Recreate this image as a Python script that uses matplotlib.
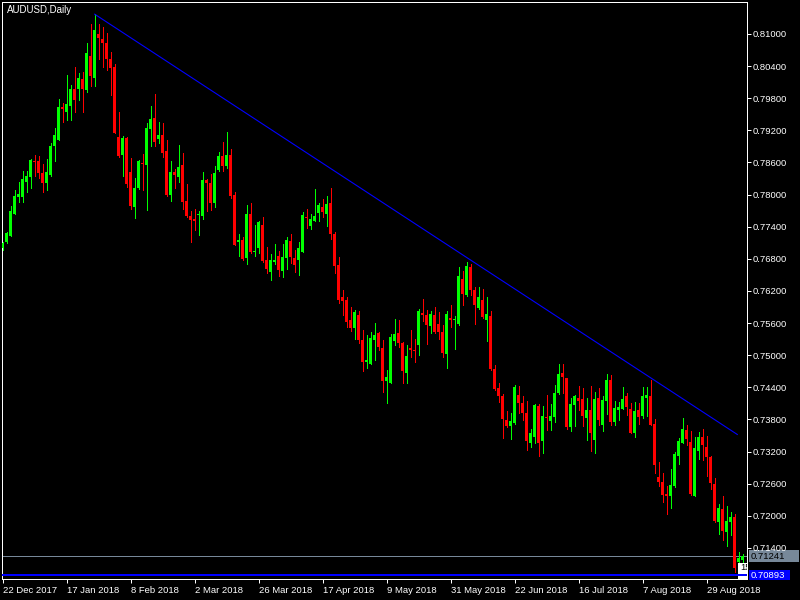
import matplotlib
matplotlib.use("Agg")
import matplotlib.pyplot as plt
from matplotlib.patches import Rectangle
import numpy as np

symbol_title = "AUDUSD,Daily"

opens = [0.7700, 0.7712, 0.7723, 0.7764, 0.7796, 0.7796, 0.7824, 0.7832, 0.7863, 0.7862,
         0.7841, 0.7822, 0.7837, 0.7890, 0.7902, 0.7964, 0.7955, 0.7966, 0.7997, 0.7997,
         0.8016, 0.7995, 0.8059, 0.8018, 0.8100, 0.8091, 0.8083, 0.8053, 0.8038, 0.7908,
         0.7874, 0.7906, 0.7842, 0.7777, 0.7813, 0.7859, 0.7855, 0.7923, 0.7943, 0.7904,
         0.7911, 0.7882, 0.7799, 0.7843, 0.7832, 0.7855, 0.7788, 0.7760, 0.7755, 0.7761,
         0.7760, 0.7827, 0.7822, 0.7785, 0.7846, 0.7872, 0.7853, 0.7874, 0.7799, 0.7712,
         0.7715, 0.7682, 0.7764, 0.7693, 0.7701, 0.7743, 0.7677, 0.7656, 0.7675, 0.7685,
         0.7658, 0.7682, 0.7713, 0.7681, 0.7677, 0.7693, 0.7759, 0.7741, 0.7751, 0.7766,
         0.7776, 0.7764, 0.7785, 0.7726, 0.7669, 0.7608, 0.7603, 0.7565, 0.7550, 0.7575,
         0.7528, 0.7488, 0.7484, 0.7528, 0.7542, 0.7514, 0.7451, 0.7449, 0.7527, 0.7541,
         0.7522, 0.7467, 0.7513, 0.7509, 0.7519, 0.7579, 0.7575, 0.7555, 0.7575, 0.7558,
         0.7544, 0.7502, 0.7570, 0.7565, 0.7558, 0.7642, 0.7613, 0.7664, 0.7622, 0.7588,
         0.7603, 0.7566, 0.7573, 0.7474, 0.7439, 0.7423, 0.7379, 0.7368, 0.7373, 0.7426,
         0.7411, 0.7393, 0.7337, 0.7348, 0.7406, 0.7339, 0.7385, 0.7378, 0.7385, 0.7429,
         0.7466, 0.7457, 0.7366, 0.7407, 0.7420, 0.7418, 0.7383, 0.7398, 0.7342, 0.7420,
         0.7370, 0.7415, 0.7454, 0.7376, 0.7398, 0.7400, 0.7424, 0.7399, 0.7355, 0.7398,
         0.7387, 0.7421, 0.7423, 0.7372, 0.7273, 0.7264, 0.7241, 0.7238, 0.7256, 0.7312,
         0.7337, 0.7360, 0.7338, 0.7238, 0.7322, 0.7348, 0.7329, 0.7310, 0.7260, 0.7188,
         0.7213, 0.7169, 0.7188, 0.7197, 0.7114, 0.7117]

highs = [0.7712, 0.7731, 0.7779, 0.7809, 0.7824, 0.7844, 0.7844, 0.7867, 0.7874, 0.7873,
         0.7857, 0.7867, 0.7896, 0.7925, 0.7978, 0.7972, 0.8023, 0.8005, 0.8038, 0.8027,
         0.8029, 0.8083, 0.8118, 0.8137, 0.8118, 0.8114, 0.8102, 0.8067, 0.8044, 0.7955,
         0.7910, 0.7908, 0.7868, 0.7831, 0.7865, 0.7875, 0.7933, 0.7966, 0.7988, 0.7936,
         0.7933, 0.7902, 0.7862, 0.7848, 0.7893, 0.7877, 0.7820, 0.7769, 0.7773, 0.7769,
         0.7843, 0.7829, 0.7838, 0.7853, 0.7880, 0.7899, 0.7917, 0.7886, 0.7804, 0.7726,
         0.7721, 0.7781, 0.7785, 0.7743, 0.7751, 0.7758, 0.7702, 0.7689, 0.7708, 0.7695,
         0.7707, 0.7721, 0.7726, 0.7697, 0.7712, 0.7768, 0.7773, 0.7764, 0.7811, 0.7784,
         0.7792, 0.7797, 0.7813, 0.7731, 0.7684, 0.7622, 0.7608, 0.7591, 0.7585, 0.7583,
         0.7547, 0.7538, 0.7543, 0.7560, 0.7544, 0.7528, 0.7472, 0.7540, 0.7568, 0.7566,
         0.7525, 0.7519, 0.7547, 0.7530, 0.7586, 0.7605, 0.7585, 0.7583, 0.7590, 0.7580,
         0.7557, 0.7583, 0.7594, 0.7574, 0.7665, 0.7657, 0.7675, 0.7670, 0.7627, 0.7627,
         0.7623, 0.7609, 0.7583, 0.7482, 0.7449, 0.7427, 0.7395, 0.7393, 0.7444, 0.7443,
         0.7424, 0.7415, 0.7362, 0.7409, 0.7408, 0.7405, 0.7426, 0.7409, 0.7444, 0.7484,
         0.7483, 0.7458, 0.7420, 0.7425, 0.7443, 0.7439, 0.7420, 0.7443, 0.7431, 0.7438,
         0.7424, 0.7465, 0.7463, 0.7415, 0.7413, 0.7440, 0.7430, 0.7411, 0.7413, 0.7411,
         0.7441, 0.7440, 0.7454, 0.7380, 0.7301, 0.7280, 0.7256, 0.7288, 0.7320, 0.7345,
         0.7383, 0.7370, 0.7359, 0.7347, 0.7357, 0.7362, 0.7349, 0.7311, 0.7270, 0.7223,
         0.7237, 0.7218, 0.7208, 0.7203, 0.7133, 0.7129]

lows = [0.7697, 0.7710, 0.7723, 0.7763, 0.7787, 0.7787, 0.7804, 0.7813, 0.7834, 0.7831,
        0.7805, 0.7809, 0.7835, 0.7863, 0.7902, 0.7936, 0.7939, 0.7939, 0.7955, 0.7977,
        0.7955, 0.7992, 0.8003, 0.8003, 0.8053, 0.8039, 0.8033, 0.7986, 0.7915, 0.7871,
        0.7834, 0.7815, 0.7773, 0.7757, 0.7811, 0.7809, 0.7771, 0.7891, 0.7891, 0.7896,
        0.7871, 0.7798, 0.7788, 0.7813, 0.7823, 0.7774, 0.7758, 0.7712, 0.7734, 0.7725,
        0.7754, 0.7769, 0.7771, 0.7776, 0.7845, 0.7844, 0.7849, 0.7793, 0.7705, 0.7686,
        0.7677, 0.7670, 0.7691, 0.7686, 0.7691, 0.7674, 0.7653, 0.7641, 0.7670, 0.7648,
        0.7647, 0.7662, 0.7673, 0.7656, 0.7650, 0.7692, 0.7737, 0.7736, 0.7750, 0.7751,
        0.7759, 0.7742, 0.7717, 0.7654, 0.7598, 0.7575, 0.7552, 0.7546, 0.7530, 0.7523,
        0.7471, 0.7476, 0.7483, 0.7491, 0.7510, 0.7432, 0.7411, 0.7448, 0.7519, 0.7516,
        0.7448, 0.7448, 0.7497, 0.7488, 0.7500, 0.7564, 0.7521, 0.7542, 0.7542, 0.7530,
        0.7496, 0.7476, 0.7552, 0.7511, 0.7557, 0.7594, 0.7611, 0.7613, 0.7558, 0.7586,
        0.7569, 0.7527, 0.7473, 0.7436, 0.7413, 0.7346, 0.7366, 0.7344, 0.7372, 0.7392,
        0.7379, 0.7323, 0.7329, 0.7336, 0.7312, 0.7317, 0.7360, 0.7360, 0.7376, 0.7427,
        0.7429, 0.7363, 0.7358, 0.7368, 0.7398, 0.7368, 0.7342, 0.7321, 0.7318, 0.7370,
        0.7359, 0.7390, 0.7370, 0.7370, 0.7379, 0.7399, 0.7388, 0.7354, 0.7348, 0.7372,
        0.7382, 0.7387, 0.7369, 0.7280, 0.7256, 0.7225, 0.7203, 0.7215, 0.7254, 0.7297,
        0.7336, 0.7332, 0.7239, 0.7237, 0.7306, 0.7304, 0.7274, 0.7250, 0.7189, 0.7166,
        0.7155, 0.7144, 0.7164, 0.7096, 0.7112, 0.7114]

closes = [0.7710, 0.7728, 0.7769, 0.7797, 0.7802, 0.7829, 0.7835, 0.7865, 0.7860, 0.7840,
          0.7822, 0.7842, 0.7891, 0.7911, 0.7964, 0.7959, 0.7969, 0.7997, 0.7977, 0.8017,
          0.7997, 0.8064, 0.8022, 0.8108, 0.8092, 0.8083, 0.8053, 0.8036, 0.7916, 0.7873,
          0.7906, 0.7820, 0.7779, 0.7812, 0.7863, 0.7857, 0.7925, 0.7942, 0.7899, 0.7911,
          0.7878, 0.7799, 0.7842, 0.7837, 0.7852, 0.7786, 0.7760, 0.7753, 0.7751, 0.7762,
          0.7827, 0.7822, 0.7785, 0.7840, 0.7872, 0.7853, 0.7874, 0.7797, 0.7706, 0.7715,
          0.7680, 0.7764, 0.7693, 0.7695, 0.7749, 0.7676, 0.7661, 0.7678, 0.7678, 0.7659,
          0.7684, 0.7715, 0.7684, 0.7669, 0.7700, 0.7762, 0.7756, 0.7755, 0.7760, 0.7781,
          0.7768, 0.7783, 0.7726, 0.7667, 0.7603, 0.7602, 0.7563, 0.7551, 0.7581, 0.7528,
          0.7488, 0.7491, 0.7533, 0.7537, 0.7516, 0.7451, 0.7460, 0.7534, 0.7540, 0.7523,
          0.7471, 0.7499, 0.7509, 0.7507, 0.7583, 0.7575, 0.7557, 0.7577, 0.7544, 0.7544,
          0.7504, 0.7577, 0.7566, 0.7568, 0.7648, 0.7614, 0.7667, 0.7622, 0.7594, 0.7609,
          0.7572, 0.7577, 0.7474, 0.7437, 0.7423, 0.7380, 0.7367, 0.7377, 0.7441, 0.7411,
          0.7392, 0.7340, 0.7354, 0.7407, 0.7337, 0.7387, 0.7382, 0.7387, 0.7429, 0.7465,
          0.7460, 0.7366, 0.7409, 0.7424, 0.7415, 0.7387, 0.7398, 0.7354, 0.7418, 0.7379,
          0.7416, 0.7454, 0.7376, 0.7402, 0.7404, 0.7418, 0.7404, 0.7355, 0.7396, 0.7385,
          0.7423, 0.7426, 0.7370, 0.7295, 0.7264, 0.7239, 0.7237, 0.7258, 0.7316, 0.7339,
          0.7362, 0.7344, 0.7241, 0.7326, 0.7348, 0.7332, 0.7309, 0.7261, 0.7190, 0.7215,
          0.7172, 0.7190, 0.7197, 0.7102, 0.7121, 0.71241]

date_labels = ["22 Dec 2017", "17 Jan 2018", "8 Feb 2018", "2 Mar 2018", "26 Mar 2018",
               "17 Apr 2018", "9 May 2018", "31 May 2018", "22 Jun 2018", "16 Jul 2018",
               "7 Aug 2018", "29 Aug 2018"]
date_label_bars = [0, 16, 32, 48, 64, 80, 96, 112, 128, 144, 160, 176]

price_ticks = [0.714, 0.720, 0.726, 0.732, 0.738, 0.744, 0.750, 0.756, 0.762,
               0.768, 0.774, 0.780, 0.786, 0.792, 0.798, 0.804, 0.810]

trend_x = [23, 183.65]
trend_y = [0.8137, 0.7352]

bid_price = 0.71241
blue_line_price = 0.70893

BULL = "#00ff00"
BEAR = "#ff0000"
PX = 0.72  # one pixel in points at 100 dpi

plt.rcParams["font.family"] = ["Liberation Sans", "DejaVu Sans"]

fig = plt.figure(figsize=(8, 6), dpi=100, facecolor="black")
L, R, T, B = 2.3, 747.3, 2.3, 579.3
ax = fig.add_axes([L / 800, 1 - B / 600, (R - L) / 800, (B - T) / 600])
ax.set_facecolor("black")

o = np.array(opens)
h = np.array(highs)
l = np.array(lows)
c = np.array(closes)
x = np.arange(len(o))
cols = np.where(c >= o, BULL, BEAR)

ax.vlines(x, l, h, colors=cols, linewidth=PX, antialiased=False, zorder=3)
bottoms = np.minimum(o, c)
heights = np.maximum(np.abs(c - o), 0.00019)
ax.bar(x, heights, bottom=bottoms, width=0.75, color=cols, linewidth=0,
       antialiased=False, zorder=4)

ax.axhline(bid_price, color="#778899", linewidth=PX, antialiased=False, zorder=2)
ax.axhline(blue_line_price, color="#0000ff", linewidth=1.2, antialiased=False, zorder=5)
ax.plot(trend_x, trend_y, color="#0000ff", linewidth=0.8, antialiased=True, zorder=5)

ax.set_xlim(-0.1, 186.15)
ax.set_ylim(0.70815, 0.81592)

for s in ax.spines.values():
    s.set_color("white")
    s.set_linewidth(PX)

ax.yaxis.tick_right()
ax.set_yticks(price_ticks)
ax.set_yticklabels([f"{p:.5f}" for p in price_ticks])
ax.tick_params(axis="y", colors="white", labelsize=6.8, length=3, width=PX, pad=1)
ax.set_xticks(date_label_bars)
ax.set_xticklabels(date_labels, ha="left")
ax.tick_params(axis="x", colors="white", labelsize=6.8, length=3, width=PX, pad=1.5)

# right-side price boxes
ytr = ax.get_yaxis_transform()
pix = (0.81592 - 0.70815) / 577.0
ax.add_patch(Rectangle((1.0023, bid_price - 6 * pix), 0.0671, 12 * pix,
                       transform=ytr, clip_on=False, facecolor="#778899",
                       edgecolor="none"))
ax.text(1.0045, bid_price, f"{bid_price:.5f}", transform=ytr, color="black",
        fontsize=6.8, ha="left", va="center", clip_on=False)
ax.add_patch(Rectangle((1.0023, blue_line_price - 5 * pix), 0.0551, 10.5 * pix,
                       transform=ytr, clip_on=False, facecolor="#0000ff",
                       edgecolor="none"))
ax.text(1.0045, blue_line_price, f"{blue_line_price:.5f}", transform=ytr,
        color="white", fontsize=6.8, ha="left", va="center", clip_on=False)

# small white label box at the last bar
ax.add_patch(Rectangle((183.75, blue_line_price - 3.5 * pix), 4, 16 * pix,
                       facecolor="white", edgecolor="none", zorder=4.5))
ax.text(184.4, blue_line_price + 8 * pix, "15", color="black", fontsize=6.8,
        ha="left", va="center", zorder=4.6, clip_on=True)

fig.text(7 / 800, 1 - 10 / 600, symbol_title, color="white", fontsize=7,
         ha="left", va="center")

fig.savefig("out.png", dpi=100, facecolor="black")
